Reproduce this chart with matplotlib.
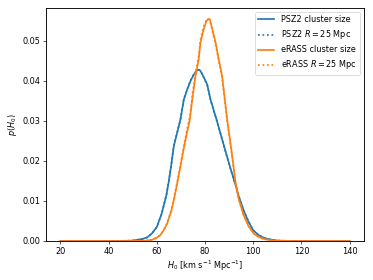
import matplotlib
matplotlib.use("Agg")
import matplotlib.pyplot as plt

# H0 grid points (km/s/Mpc) and posterior densities
h0_psz2 = [20, 40, 45, 50, 54, 56, 58, 60, 62, 64, 65, 66, 67, 67.8, 69.8, 71.2,
           72.6, 74, 75.4, 77, 78, 79, 80.9, 82.3, 84.8, 88, 90, 92, 92.7, 94,
           96, 98, 100, 102, 104, 106, 108, 110, 115, 120, 140]
p_psz2 = [0, 0, 0.00002, 0.0001, 0.0005, 0.0009, 0.0019, 0.0035, 0.0068, 0.0115,
          0.0150, 0.0190, 0.0235, 0.0255, 0.0303, 0.0353, 0.0378, 0.0400, 0.0416,
          0.0428, 0.0426, 0.0415, 0.0391, 0.0353, 0.0303, 0.0235, 0.0193, 0.0153,
          0.0140, 0.0112, 0.0077, 0.0049, 0.0027, 0.0016, 0.0009, 0.0005, 0.0003,
          0.0001, 0.00002, 0, 0]
p_psz2_r25 = [0, 0, 0.00002, 0.0001, 0.0005, 0.0009, 0.0019, 0.0035, 0.0068, 0.0116,
              0.0151, 0.0191, 0.0236, 0.0256, 0.0304, 0.0354, 0.0379, 0.0401, 0.0417,
              0.0428, 0.0426, 0.0414, 0.0390, 0.0352, 0.0302, 0.0234, 0.0192, 0.0152,
              0.0140, 0.0112, 0.0077, 0.0049, 0.0027, 0.0016, 0.0009, 0.0005, 0.0003,
              0.0001, 0.00002, 0, 0]

h0_erass = [20, 50, 55, 58, 60, 61.5, 63, 64.3, 66, 67.1, 68.5, 69.8, 71, 72.5,
            73.7, 74.7, 76, 77.4, 78.1, 79.5, 80.5, 81.2, 82, 83, 84.4, 85.7, 87.1,
            88, 89.2, 91, 92.7, 94, 96, 98, 100, 102, 104, 106, 108, 110, 120, 140]
p_erass = [0, 0, 0.00005, 0.0003, 0.0008, 0.0015, 0.0028, 0.0044, 0.0075, 0.0103,
           0.0145, 0.0186, 0.0225, 0.0270, 0.0303, 0.0353, 0.0410, 0.0454, 0.0495,
           0.0530, 0.0548, 0.0554, 0.0554, 0.0530, 0.0495, 0.0454, 0.0412, 0.0365,
           0.0303, 0.0225, 0.0145, 0.0105, 0.0065, 0.0038, 0.0020, 0.0011, 0.0006,
           0.0003, 0.00015, 0.00005, 0, 0]
p_erass_r25 = [0, 0, 0.00005, 0.0003, 0.0008, 0.0015, 0.0029, 0.0045, 0.0077, 0.0106,
               0.0149, 0.0191, 0.0231, 0.0277, 0.0311, 0.0362, 0.0419, 0.0463, 0.0503,
               0.0537, 0.0552, 0.0554, 0.0552, 0.0526, 0.0490, 0.0449, 0.0408, 0.0362,
               0.0300, 0.0223, 0.0144, 0.0104, 0.0065, 0.0038, 0.0020, 0.0011, 0.0006,
               0.0003, 0.00015, 0.00005, 0, 0]

dpi = 58.3
fig = plt.figure(figsize=(373 / dpi, 280 / dpi), dpi=dpi)
ax = fig.add_axes([0.1233, 0.1393, 0.8526, 0.832])

lw = 2.1
ax.plot(h0_psz2, p_psz2, color="C0", lw=lw, label="PSZ2 cluster size")
ax.plot(h0_psz2, p_psz2_r25, color="C0", lw=lw, ls=":", label="PSZ2 $R = 25$ Mpc")
ax.plot(h0_erass, p_erass, color="C1", lw=lw, label="eRASS cluster size")
ax.plot(h0_erass, p_erass_r25, color="C1", lw=lw, ls=":", label="eRASS $R = 25$ Mpc")

for s in ax.spines.values():
    s.set_linewidth(1.1)

ax.set_ylim(bottom=0)
ax.set_xlabel(r"$H_0$ [km s$^{-1}$ Mpc$^{-1}$]")
ax.set_ylabel(r"$p(H_0)$")
ax.legend(loc="upper right")

fig.savefig("out.png", dpi=dpi)
